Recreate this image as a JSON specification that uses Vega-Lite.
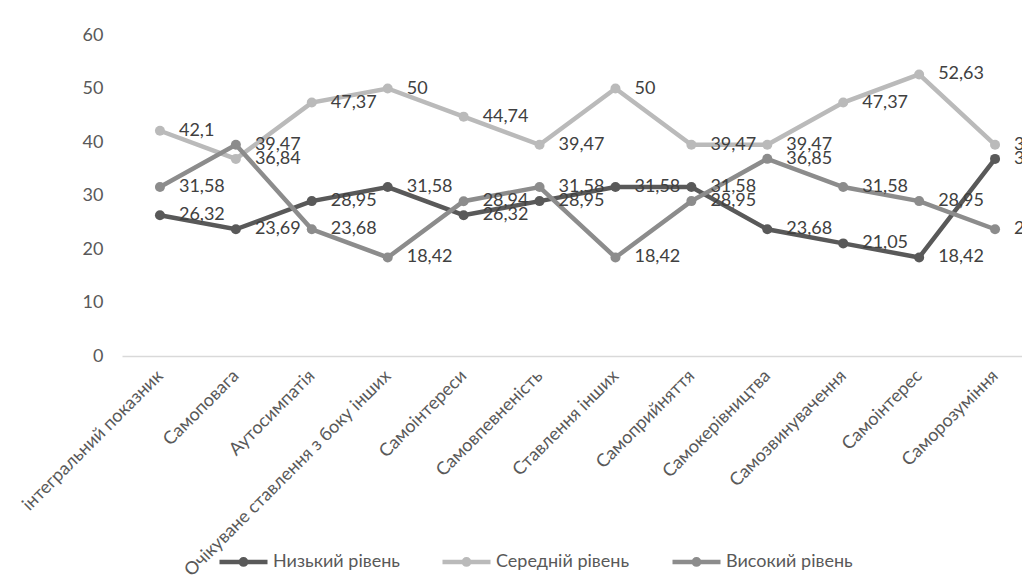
{
  "$schema": "https://vega.github.io/schema/vega-lite/v6.json",
  "autosize": "none",
  "width": 911,
  "height": 321,
  "padding": {"left": 122, "top": 35, "right": 0, "bottom": 232},
  "background": "white",
  "config": {
    "view": {"stroke": null},
    "font": "Lato",
    "locale": {"number": {"decimal": ",", "thousands": " ", "grouping": [3], "currency": ["", " ₴"]}}
  },
  "data": {
    "values": [
      {"cat": "інтегральний показник", "series": "Низький рівень", "value": 26.32},
      {"cat": "Самоповага", "series": "Низький рівень", "value": 23.69},
      {"cat": "Аутосимпатія", "series": "Низький рівень", "value": 28.95},
      {"cat": "Очікуване ставлення з боку інших", "series": "Низький рівень", "value": 31.58},
      {"cat": "Самоінтереси", "series": "Низький рівень", "value": 26.32},
      {"cat": "Самовпевненість", "series": "Низький рівень", "value": 28.95},
      {"cat": "Ставлення інших", "series": "Низький рівень", "value": 31.58},
      {"cat": "Самоприйняття", "series": "Низький рівень", "value": 31.58},
      {"cat": "Самокерівництва", "series": "Низький рівень", "value": 23.68},
      {"cat": "Самозвинувачення", "series": "Низький рівень", "value": 21.05},
      {"cat": "Самоінтерес", "series": "Низький рівень", "value": 18.42},
      {"cat": "Саморозуміння", "series": "Низький рівень", "value": 36.84},
      {"cat": "інтегральний показник", "series": "Середній рівень", "value": 42.1},
      {"cat": "Самоповага", "series": "Середній рівень", "value": 36.84},
      {"cat": "Аутосимпатія", "series": "Середній рівень", "value": 47.37},
      {"cat": "Очікуване ставлення з боку інших", "series": "Середній рівень", "value": 50},
      {"cat": "Самоінтереси", "series": "Середній рівень", "value": 44.74},
      {"cat": "Самовпевненість", "series": "Середній рівень", "value": 39.47},
      {"cat": "Ставлення інших", "series": "Середній рівень", "value": 50},
      {"cat": "Самоприйняття", "series": "Середній рівень", "value": 39.47},
      {"cat": "Самокерівництва", "series": "Середній рівень", "value": 39.47},
      {"cat": "Самозвинувачення", "series": "Середній рівень", "value": 47.37},
      {"cat": "Самоінтерес", "series": "Середній рівень", "value": 52.63},
      {"cat": "Саморозуміння", "series": "Середній рівень", "value": 39.47},
      {"cat": "інтегральний показник", "series": "Високий рівень", "value": 31.58},
      {"cat": "Самоповага", "series": "Високий рівень", "value": 39.47},
      {"cat": "Аутосимпатія", "series": "Високий рівень", "value": 23.68},
      {"cat": "Очікуване ставлення з боку інших", "series": "Високий рівень", "value": 18.42},
      {"cat": "Самоінтереси", "series": "Високий рівень", "value": 28.94},
      {"cat": "Самовпевненість", "series": "Високий рівень", "value": 31.58},
      {"cat": "Ставлення інших", "series": "Високий рівень", "value": 18.42},
      {"cat": "Самоприйняття", "series": "Високий рівень", "value": 28.95},
      {"cat": "Самокерівництва", "series": "Високий рівень", "value": 36.85},
      {"cat": "Самозвинувачення", "series": "Високий рівень", "value": 31.58},
      {"cat": "Самоінтерес", "series": "Високий рівень", "value": 28.95},
      {"cat": "Саморозуміння", "series": "Високий рівень", "value": 23.69}
    ]
  },
  "encoding": {
    "x": {
      "field": "cat",
      "type": "nominal",
      "sort": null,
      "scale": {"type": "point", "padding": 0.5},
      "axis": {
        "title": null,
        "labelAngle": -45,
        "labelAlign": "right",
        "labelBaseline": "middle",
        "labelPadding": 17,
        "labelLimit": 400,
        "labelFontSize": 18,
        "labelColor": "#595959",
        "ticks": false,
        "domainColor": "#d9d9d9",
        "domainWidth": 1.3
      }
    },
    "y": {
      "field": "value",
      "type": "quantitative",
      "scale": {"domain": [0, 60]},
      "axis": {
        "title": null,
        "values": [0, 10, 20, 30, 40, 50, 60],
        "grid": false,
        "domain": false,
        "ticks": false,
        "labelPadding": 19,
        "labelFontSize": 18,
        "labelColor": "#595959"
      }
    }
  },
  "layer": [
    {
      "mark": {"type": "line", "strokeWidth": 4.5, "point": {"filled": true, "size": 100, "opacity": 1}},
      "encoding": {
        "color": {
          "field": "series",
          "type": "nominal",
          "sort": ["Низький рівень", "Середній рівень", "Високий рівень"],
          "scale": {
            "domain": ["Низький рівень", "Середній рівень", "Високий рівень"],
            "range": ["#595959", "#bababa", "#8c8c8c"]
          },
          "legend": {
            "title": null,
            "orient": "none",
            "direction": "horizontal",
            "legendX": 95,
            "legendY": 500,
            "symbolType": "M-1,0L1,0M-0.11,0a0.11,0.11 0 1,0 0.22,0a0.11,0.11 0 1,0 -0.22,0",
            "symbolSize": 2304,
            "symbolStrokeWidth": 4.5,
            "labelFontSize": 18,
            "labelColor": "#595959",
            "labelOffset": 3,
            "columnPadding": 33,
            "labelLimit": 300
          }
        }
      }
    },
    {
      "mark": {"type": "text", "align": "left", "baseline": "middle", "dx": 19, "fontSize": 18, "color": "#404040"},
      "encoding": {
        "text": {"field": "value", "type": "quantitative", "format": ".4~r"},
        "detail": {"field": "series"}
      }
    }
  ]
}
